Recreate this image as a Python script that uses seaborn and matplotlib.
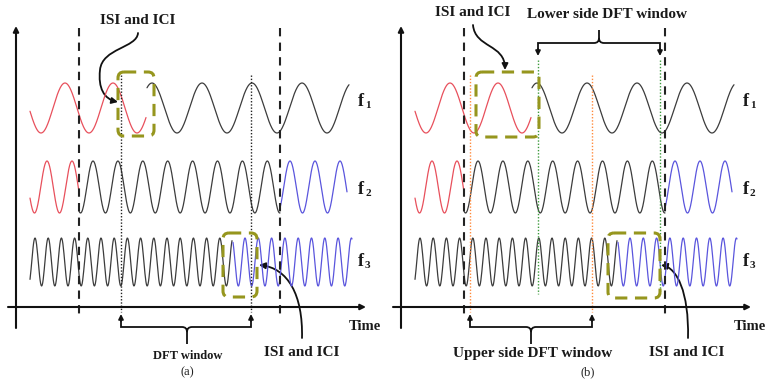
import numpy as np
import matplotlib
matplotlib.use("Agg")
import matplotlib.pyplot as plt
import seaborn as sns
from matplotlib.path import Path
from matplotlib.patches import FancyArrowPatch, FancyBboxPatch, PathPatch

sns.set_theme(style="white")
plt.rcParams['font.family'] = ['Liberation Serif', 'DejaVu Serif']

# -----------------------------
# Values (pixel units, x is local to each panel)
# -----------------------------
W, H = 771, 383
panel_x0 = [0, 385]
panel_tags = ['(a)', '(b)']

row_digits = ['1', '2', '3']
row_center = [108, 187, 262]
row_amp = [25, 26, 24]
label_y = [101, 189, 261]

# waveform segments of the three sub-carriers
seg_row = [0, 0, 1, 1, 1, 2, 2]
seg_start = [30, 147, 30, 79, 280, 30, 233]
seg_end = [146, 349, 79, 280, 347, 232, 352]
seg_period = [48, 50, 25, 24.9, 25, 13.2, 13.3]
seg_peak = [65, 152, 47, 93, 290, 35, 245]
seg_kind = ['prev', 'cur', 'prev', 'cur', 'next', 'cur', 'next']

symbol_edges = [79, 280]
window_a = [121, 251]
window_upper = [85, 207]
window_lower = [153, 275]

boxes_a = [(118, 72, 154, 136), (223, 233, 257, 297)]
boxes_b = [(91, 72, 154, 137), (223, 233, 275, 298)]

colors = {'prev': '#e8505c', 'cur': '#3c3c3c', 'next': '#5a55dd'}
OLIVE = '#96961e'
ORANGE = '#ff8a3c'
GREEN = '#3d9a3d'
BOLD = dict(fontweight='bold', color='#1a1a1a')

fig = plt.figure(figsize=(W / 100, H / 100), dpi=100)
ax = fig.add_axes([0, 0, 1, 1])
ax.set_xlim(0, W)
ax.set_ylim(H, 0)
ax.axis('off')


def arrow(p0, p1, lw=1.3, ms=8, color='#111111'):
    ax.annotate('', xy=p1, xytext=p0,
                arrowprops=dict(arrowstyle='-|>', lw=lw, color=color,
                                mutation_scale=ms, shrinkA=0, shrinkB=0))


def curved_arrow(pts):
    codes = [Path.MOVETO] + [Path.CURVE4] * (len(pts) - 1)
    p = FancyArrowPatch(path=Path(pts, codes), arrowstyle='-|>',
                        mutation_scale=9, lw=1.3, color='#111111')
    ax.add_patch(p)


def brace(x0, x1, xm, y, tip):
    d = 1 if tip > y else -1
    r = 5
    verts = [(x0, y - d * 8), (x0, y), (x0, y), (x0 + r, y), (xm - r, y),
             (xm, y), (xm, y + d * r), (xm, tip),
             (xm, y + d * r), (xm, y), (xm + r, y), (x1 - r, y),
             (x1, y), (x1, y), (x1, y - d * 8)]
    codes = [Path.MOVETO, Path.LINETO, Path.CURVE3, Path.CURVE3, Path.LINETO,
             Path.CURVE3, Path.CURVE3, Path.LINETO,
             Path.MOVETO, Path.CURVE3, Path.CURVE3, Path.LINETO,
             Path.CURVE3, Path.CURVE3, Path.LINETO]
    ax.add_patch(PathPatch(Path(verts, codes), fill=False, lw=1.3,
                           edgecolor='#111111'))
    arrow((x0, y - d * 6), (x0, y - d * 13), ms=7)
    arrow((x1, y - d * 6), (x1, y - d * 13), ms=7)


def box(x, rect):
    x0, y0, x1, y1 = rect
    ax.add_patch(FancyBboxPatch((x + x0, y0), x1 - x0, y1 - y0,
                                boxstyle='round,pad=0,rounding_size=6',
                                fill=False, edgecolor=OLIVE, lw=2.2,
                                linestyle=(0, (4, 2.5)), zorder=4))


for k, ox in enumerate(panel_x0):
    # axes with arrows
    arrow((ox + 16, 328), (ox + 16, 26), lw=1.5)
    arrow((ox + 8, 307), (ox + 366, 307), lw=1.5)
    ax.text(ox + 349, 327, 'Time', fontsize=10.5, ha='left', va='center', **BOLD)

    # waveforms
    for r, s, e, per, pk, kind in zip(seg_row, seg_start, seg_end,
                                      seg_period, seg_peak, seg_kind):
        xs = np.linspace(s, e, 400)
        ys = row_center[r] - row_amp[r] * np.cos(2 * np.pi * (xs - pk) / per)
        sns.lineplot(x=xs + ox, y=ys, color=colors[kind], lw=0.9, ax=ax,
                     sort=False, estimator=None)

    for r in range(3):
        ax.text(ox + 358, label_y[r], 'f', fontsize=13, ha='left',
                va='center', **BOLD)
        ax.text(ox + 365, label_y[r] + 5, row_digits[r], fontsize=8,
                ha='left', va='center', **BOLD)

    # symbol boundaries
    for xe in symbol_edges:
        ax.plot([ox + xe, ox + xe], [28, 318], color='#222222', lw=1.5,
                linestyle=(0, (4, 3)))

    ax.text(ox + 187 + k * 16, 372, panel_tags[k], fontsize=9, ha='center',
            va='center', color='#222222')

# panel (a)
for xw in window_a:
    ax.plot([xw, xw], [75, 312], color='#222222', lw=1, linestyle=(0, (1, 1.3)))
brace(window_a[0], window_a[1], 187, 327, 344)
ax.text(188, 356, 'DFT window', fontsize=9, ha='center', va='center', **BOLD)
for b in boxes_a:
    box(0, b)
ax.text(138, 21, 'ISI and ICI', fontsize=11, ha='center', va='center', **BOLD)
curved_arrow([(138, 33), (137, 48), (102, 48), (100, 70),
              (98, 88), (104, 99), (118, 102)])
ax.text(302, 352, 'ISI and ICI', fontsize=11, ha='center', va='center', **BOLD)
curved_arrow([(302, 338), (303, 295), (288, 268), (259, 265)])

# panel (b)
ox = panel_x0[1]
for xw in window_upper:
    ax.plot([ox + xw, ox + xw], [75, 312], color=ORANGE, lw=1,
            linestyle=(0, (1, 1.3)))
for xw in window_lower:
    ax.plot([ox + xw, ox + xw], [60, 294], color=GREEN, lw=1,
            linestyle=(0, (1, 1.3)))
brace(ox + window_upper[0], ox + window_upper[1], ox + 146, 327, 344)
brace(ox + window_lower[0], ox + window_lower[1], ox + 214, 43, 30)
ax.text(ox + 148, 354, 'Upper side DFT window', fontsize=11, ha='center',
        va='center', **BOLD)
ax.text(ox + 222, 14, 'Lower side DFT window', fontsize=11, ha='center',
        va='center', **BOLD)
for b in boxes_b:
    box(ox, b)
ax.text(ox + 88, 13, 'ISI and ICI', fontsize=11, ha='center', va='center', **BOLD)
curved_arrow([(ox + 88, 25), (ox + 90, 48), (ox + 120, 44), (ox + 120, 70)])
ax.text(ox + 302, 352, 'ISI and ICI', fontsize=11, ha='center', va='center', **BOLD)
curved_arrow([(ox + 303, 338), (ox + 304, 292), (ox + 292, 268), (ox + 276, 265)])

fig.savefig('out.png', dpi=100, facecolor='white')
